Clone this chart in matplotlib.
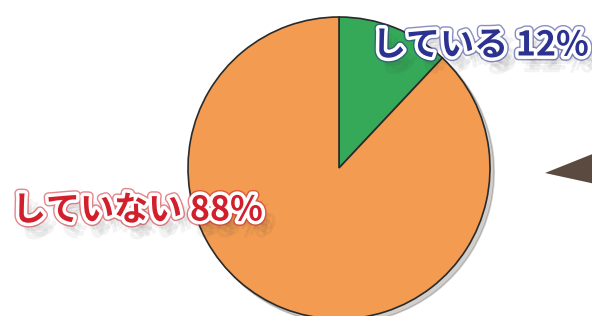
import matplotlib.pyplot as plt
import matplotlib.patheffects as pe

labels = ['している', 'していない']
shares = [12, 88]
colors = ['#35a957', '#f39b50']
text_colors = ['#2b3290', '#d11f2c']

plt.rcParams['font.family'] = ['Noto Sans CJK JP', 'DejaVu Sans']

fig = plt.figure(figsize=(5.92, 3.16), dpi=100)
ax = fig.add_axes([0, 0, 1, 1])

wedges, _ = ax.pie(shares, colors=colors, startangle=90, counterclock=False,
                   center=(339, 148), radius=151, frame=True,
                   wedgeprops={'edgecolor': '#2a2a2a', 'linewidth': 1.2},
                   shadow={'ox': 3, 'oy': -3, 'shade': 0.9, 'alpha': 0.2})
ax.set_xlim(0, 592)
ax.set_ylim(0, 316)
ax.set_aspect('equal')
ax.axis('off')

# decorative arrow head at the right edge
ax.fill([545, 600, 600], [143, 165, 131], color='#5b4a3f', lw=0)

# soft, blurred-looking drop shadow built from a few faint layers
soft_shadow = [pe.SimplePatchShadow(offset=(dx, dy), shadow_rgbFace='#333333', alpha=0.06)
               for dx, dy in [(2, -6), (5, -8), (8, -10), (4, -12), (10, -6), (6, -4)]]

label_pos = [(372, 271), (12, 106)]
for lab, pct, tc, (x, y) in zip(labels, shares, text_colors, label_pos):
    ax.text(x, y, f'{lab} {pct}%', color=tc, fontsize=24.5, fontweight='bold',
            ha='left', va='center',
            path_effects=soft_shadow + [
                pe.Stroke(linewidth=7, foreground=tc, alpha=0.55),
                pe.Stroke(linewidth=5, foreground='white'),
                pe.Normal()])

fig.savefig('out.png', dpi=100)
